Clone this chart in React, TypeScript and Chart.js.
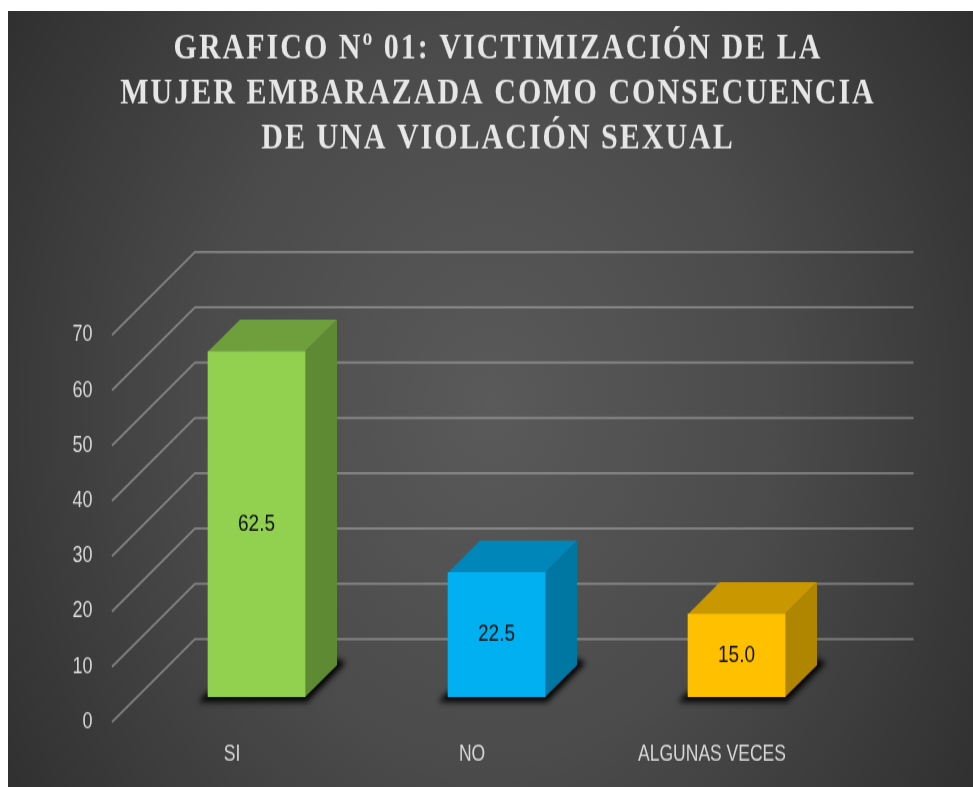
import React, { useEffect, useRef } from "react";
import { Chart, registerables } from "chart.js";

Chart.register(...registerables);

const categories = ["SI", "NO", "ALGUNAS VECES"];
const values = [62.5, 22.5, 15.0];
const titleLines = [
  "GRAFICO Nº 01: VICTIMIZACIÓN DE LA",
  "MUJER EMBARAZADA COMO CONSECUENCIA",
  "DE UNA VIOLACIÓN SEXUAL",
];
const frontColors = ["#92D050", "#00B0F0", "#FFC000"];
const topColors = ["#6F9F3D", "#0086B8", "#C99700"];
const sideColors = ["#5F8A34", "#0076A3", "#B08600"];

const SANS = '"Liberation Sans", sans-serif';
const DEPTH_X = 32;
const DEPTH_Y = 25.6;

const scene = {
  id: "scene",
  beforeDraw(chart: any) {
    const { ctx, width, height } = chart;
    ctx.save();
    const g = ctx.createRadialGradient(482, 316, 0, 482, 316, 640);
    g.addColorStop(0, "#5a5a5a");
    g.addColorStop(0.45, "#4b4b4b");
    g.addColorStop(1, "#2a2a2a");
    ctx.fillStyle = g;
    ctx.fillRect(0, 0, width, height);
    ctx.restore();
  },
  afterLayout(chart: any) {
    const tb = chart.titleBlock;
    if (tb) {
      tb.left = 15;
      tb.right = 965;
      if (!tb.__spaced) {
        tb.__spaced = true;
        const draw = tb.draw;
        tb.draw = function (...args: any[]) {
          chart.ctx.letterSpacing = "2px";
          draw.apply(this, args);
          chart.ctx.letterSpacing = "0px";
        };
      }
    }
  },
  beforeDatasetsDraw(chart: any) {
    const { ctx, chartArea } = chart;
    const yScale = chart.scales.y;
    ctx.save();
    ctx.strokeStyle = "rgba(205,205,205,0.45)";
    ctx.lineWidth = 1.8;
    yScale.ticks.forEach((t: any) => {
      const y = yScale.getPixelForValue(t.value);
      ctx.beginPath();
      ctx.moveTo(chartArea.left - 24.5, y + 20);
      ctx.lineTo(chartArea.left + 58.5, y - 46.4);
      ctx.lineTo(chartArea.right + 57, y - 46.4);
      ctx.stroke();
    });
    const meta = chart.getDatasetMeta(0);
    meta.data.forEach((bar: any, i: number) => {
      const l = bar.x - bar.width / 2;
      const r = bar.x + bar.width / 2;
      const t = bar.y;
      const b = bar.base;
      // floor shadow
      ctx.save();
      ctx.filter = "blur(2.5px)";
      ctx.fillStyle = "rgba(0,0,0,0.95)";
      ctx.beginPath();
      ctx.moveTo(l - 10, b + 4);
      ctx.lineTo(r + 2, b + 4);
      ctx.lineTo(r + DEPTH_X + 9, b - DEPTH_Y - 2);
      ctx.lineTo(r + DEPTH_X, b - DEPTH_Y - 5);
      ctx.lineTo(l, b - 4);
      ctx.closePath();
      ctx.fill();
      ctx.restore();
      // side face
      ctx.fillStyle = sideColors[i];
      ctx.beginPath();
      ctx.moveTo(r, t);
      ctx.lineTo(r + DEPTH_X, t - DEPTH_Y);
      ctx.lineTo(r + DEPTH_X, b - DEPTH_Y);
      ctx.lineTo(r, b);
      ctx.closePath();
      ctx.fill();
      // top face
      ctx.fillStyle = topColors[i];
      ctx.beginPath();
      ctx.moveTo(l, t);
      ctx.lineTo(l + DEPTH_X, t - DEPTH_Y);
      ctx.lineTo(r + DEPTH_X, t - DEPTH_Y);
      ctx.lineTo(r, t);
      ctx.closePath();
      ctx.fill();
    });
    ctx.restore();
  },
  afterDatasetsDraw(chart: any) {
    const { ctx } = chart;
    const meta = chart.getDatasetMeta(0);
    ctx.save();
    ctx.fillStyle = "#111";
    ctx.font = `19px ${SANS}`;
    ctx.textAlign = "center";
    ctx.textBaseline = "middle";
    meta.data.forEach((bar: any, i: number) => {
      ctx.fillText(values[i].toFixed(1), bar.x, (bar.y + bar.base) / 2);
    });
    ctx.restore();
  },
};

export default function App() {
  const ref = useRef<HTMLCanvasElement>(null);
  useEffect(() => {
    const chart = new Chart(ref.current!, {
      type: "bar",
      data: {
        labels: categories,
        datasets: [
          {
            data: values,
            backgroundColor: frontColors,
            barThickness: 97,
          },
        ],
      },
      plugins: [scene],
      options: {
        responsive: false,
        animation: false,
        layout: { padding: { left: 0, right: 116.5, top: 0, bottom: 0 } },
        plugins: {
          legend: { display: false },
          tooltip: { enabled: false },
          title: {
            display: true,
            text: titleLines,
            color: "#e6e6e6",
            fullSize: false,
            font: {
              family: '"Liberation Serif", serif',
              size: 30,
              weight: "bold",
              lineHeight: 1.2,
            },
            padding: { top: 12.4, bottom: 118.9 },
          },
        },
        scales: {
          x: {
            grid: { display: false, drawTicks: false },
            border: { display: false },
            afterFit(scale: any) {
              scale.height = 72;
            },
            ticks: {
              color: "#d9d9d9",
              padding: 36,
              labelOffset: -24.5,
              maxRotation: 0,
              autoSkip: false,
              font: { family: SANS, size: 17.5 },
            },
          },
          y: {
            min: 0,
            max: 70,
            grid: { display: false, drawTicks: false },
            border: { display: false },
            afterFit(scale: any) {
              scale.width = 128.5;
            },
            ticks: {
              stepSize: 10,
              color: "#d9d9d9",
              padding: 44,
              labelOffset: 20,
              font: { family: SANS, size: 18 },
            },
          },
        },
      },
    } as any);
    return () => chart.destroy();
  }, []);
  return (
    <canvas
      ref={ref}
      width={965}
      height={621}
      style={{ position: "absolute", left: 8, top: 11, width: 965, height: 776, display: "block", filter: "blur(0.5px)" }}
    />
  );
}
